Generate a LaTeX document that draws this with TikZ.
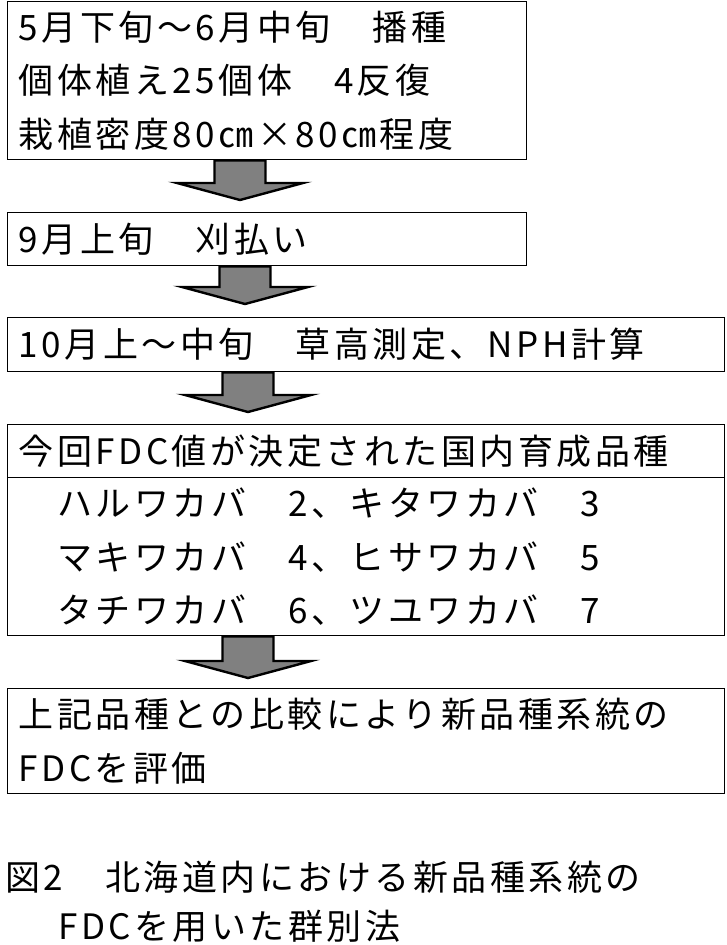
\documentclass[tikz,border=0pt]{standalone}
\usepackage{fontspec}
\newfontfamily\jpfont[LetterSpace=10]{Noto Sans CJK JP}
\usetikzlibrary{calc}
\definecolor{arrowgray}{RGB}{128,128,128}
\begin{document}
\begin{tikzpicture}[x=1pt,y=-1pt,
    box/.style={draw,line width=1.3pt,anchor=north west,inner xsep=11pt,inner ysep=0pt,
      align=left,font={\jpfont\fontsize{35}{53.5}\selectfont}},
    caption/.style={anchor=west,inner sep=0pt,font={\jpfont\fontsize{35}{49}\selectfont}},
    blockarrow/.style={fill=arrowgray,draw=black,line width=2.4pt,line join=miter,
      to path={let \p1=(\tikztostart),\p2=(\tikztotarget) in
        (\x1-25.5pt,\y1) -- (\x1-25.5pt,\y2+17pt) -- (\x1-63pt,\y2+17pt) -- (\x2,\y2)
        -- (\x1+63pt,\y2+17pt) -- (\x1+25.5pt,\y2+17pt) -- (\x1+25.5pt,\y1) -- cycle}}]
  \useasboundingbox (0,0) rectangle (726,945);
  \node[box,minimum height=158pt,text width=497pt] (sow) at (7,1)
    {5月下旬～6月中旬　播種\\個体植え25個体　4反復\\栽植密度80㎝×80㎝程度};
  \node[box,minimum height=53pt,text width=497pt] (cut) at (7,212) {9月上旬　刈払い};
  \node[box,minimum height=54pt,text width=695pt] (measure) at (7,317)
    {10月上～中旬　草高測定、NPH計算};
  \node[box,minimum height=53pt,text width=695pt] (head) at (7,424)
    {今回FDC値が決定された国内育成品種};
  \node[box,minimum height=158pt,text width=695pt] (cultivars) at (7,477)
    {　ハルワカバ　2、キタワカバ　3\\　マキワカバ　4、ヒサワカバ　5\\　タチワカバ　6、ツユワカバ　7};
  \node[box,minimum height=105pt,text width=695pt] (evaluate) at (7,688)
    {上記品種との比較により新品種系統の\\FDCを評価};
  \node[caption] (cap1) at (5,877) {図2　北海道内における新品種系統の};
  \node[caption] (cap2) at (58,926) {FDCを用いた群別法};
  \coordinate (tip1) at (240,200);
  \coordinate (tip2) at (245,304);
  \coordinate (tip3) at (248,412);
  \coordinate (tip4) at (248,678);
  \begin{scope}[blockarrow]
    \filldraw (sow.south -| tip1) to (tip1);
    \filldraw (cut.south -| tip2) to (tip2);
    \filldraw (measure.south -| tip3) to (tip3);
    \filldraw (cultivars.south -| tip4) to (tip4);
  \end{scope}
\end{tikzpicture}
\end{document}
